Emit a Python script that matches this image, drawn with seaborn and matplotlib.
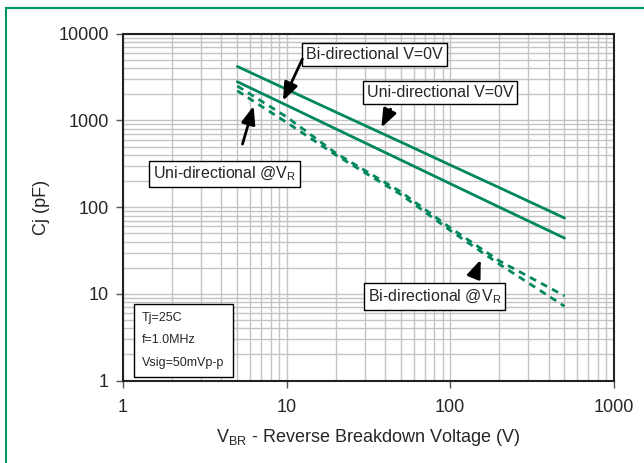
import numpy as np
import pandas as pd
import matplotlib
matplotlib.use("Agg")
import matplotlib.pyplot as plt
import matplotlib.ticker as mticker
from matplotlib.patches import Rectangle
import seaborn as sns

# Data
vbr = [5, 10, 20, 50, 100, 200, 500]
uni_0v = [4200, 2290, 1250, 564, 307, 168, 75]
bi_0v = [2800, 1500, 800, 350, 187, 100, 44]
uni_vr = [2500, 1100, 420, 150, 58, 24, 9.5]
bi_vr = [2200, 950, 400, 140, 54, 22, 7.2]

series = {
    "Uni-directional V=0V": (uni_0v, "-"),
    "Bi-directional V=0V": (bi_0v, "-"),
    "Uni-directional @VR": (uni_vr, (0, (2.5, 2))),
    "Bi-directional @VR": (bi_vr, (0, (2.5, 2))),
}

green = "#00875f"

sns.set_theme(style="white")
plt.rcParams["font.family"] = ["Liberation Sans", "DejaVu Sans"]
plt.rcParams["mathtext.fontset"] = "custom"
plt.rcParams["mathtext.rm"] = "Liberation Sans"

fig = plt.figure(figsize=(6.44, 4.63), dpi=100)
ax = fig.add_axes([0.191, 0.178, 0.762, 0.749])

for name, (vals, ls) in series.items():
    df = pd.DataFrame({"V": vbr, "C": vals})
    sns.lineplot(data=df, x="V", y="C", ax=ax, color=green, lw=2, linestyle=ls)

ax.set_xscale("log")
ax.set_yscale("log")
ax.set_xlim(1, 1000)
ax.set_ylim(1, 10000)

ax.xaxis.set_major_locator(mticker.LogLocator(base=10))
ax.xaxis.set_minor_locator(mticker.LogLocator(base=10, subs=np.arange(2, 10)))
ax.yaxis.set_major_locator(mticker.LogLocator(base=10))
ax.yaxis.set_minor_locator(mticker.LogLocator(base=10, subs=np.arange(2, 10)))
fmt = mticker.FuncFormatter(lambda v, p: f"{v:g}")
ax.xaxis.set_major_formatter(fmt)
ax.yaxis.set_major_formatter(fmt)
ax.xaxis.set_minor_formatter(mticker.NullFormatter())
ax.yaxis.set_minor_formatter(mticker.NullFormatter())

ax.grid(True, which="both", color="#c4c4c4", lw=1)
ax.set_axisbelow(True)
ax.tick_params(which="major", direction="out", length=5, width=1, color="#555555",
               labelsize=13, bottom=True, left=True)
ax.tick_params(which="minor", length=0)
ax.tick_params(axis="x", pad=8)
ax.tick_params(axis="y", pad=5)
for s in ax.spines.values():
    s.set_color("#222222")
    s.set_linewidth(1.5)

ax.set_xlabel(r"V$_{\mathregular{BR}}$ - Reverse Breakdown Voltage (V)", fontsize=13, labelpad=8)
ax.set_ylabel("Cj (pF)", fontsize=13, labelpad=6)

box = dict(boxstyle="square,pad=0.25", fc="white", ec="black", lw=1)
txt_kw = dict(fontsize=11.5, family=["Liberation Sans Narrow", "Liberation Sans"],
              ha="center", va="center", bbox=box)
arrow = dict(arrowstyle="-|>,head_width=0.35,head_length=0.9", color="black", lw=2)

ax.text(0.513, 0.939, "Bi-directional V=0V", transform=ax.transAxes, **txt_kw)
ax.text(0.646, 0.831, "Uni-directional V=0V", transform=ax.transAxes, **txt_kw)
ax.text(0.207, 0.595, r"Uni-directional @V$_{\mathregular{R}}$", transform=ax.transAxes, **txt_kw)
ax.text(0.635, 0.243, r"Bi-directional @V$_{\mathregular{R}}$", transform=ax.transAxes, **txt_kw)

ax.annotate("", xy=(9.35, 1580), xytext=(12.7, 5466), arrowprops=arrow)
ax.annotate("", xy=(37.3, 776), xytext=(44, 1445), arrowprops=arrow)
ax.annotate("", xy=(6.35, 1580), xytext=(5.32, 498), arrowprops=arrow)
ax.annotate("", xy=(156, 26.6), xytext=(139, 15.4), arrowprops=arrow)

ax.text(0.039, 0.116, "Tj=25C\n\nf=1.0MHz\n\nVsig=50mVp-p", transform=ax.transAxes,
        fontsize=9, family=["Liberation Sans Narrow", "Liberation Sans"],
        ha="left", va="center", linespacing=0.9,
        bbox=dict(boxstyle="square,pad=0.65", fc="white", ec="black", lw=1))

# green frame around the figure
fig.patches.append(Rectangle((6 / 644, -0.05), 1, 1.05 - 8 / 463, transform=fig.transFigure,
                             fill=False, ec="#00965e", lw=1.5))

fig.savefig("out.png", dpi=100)
